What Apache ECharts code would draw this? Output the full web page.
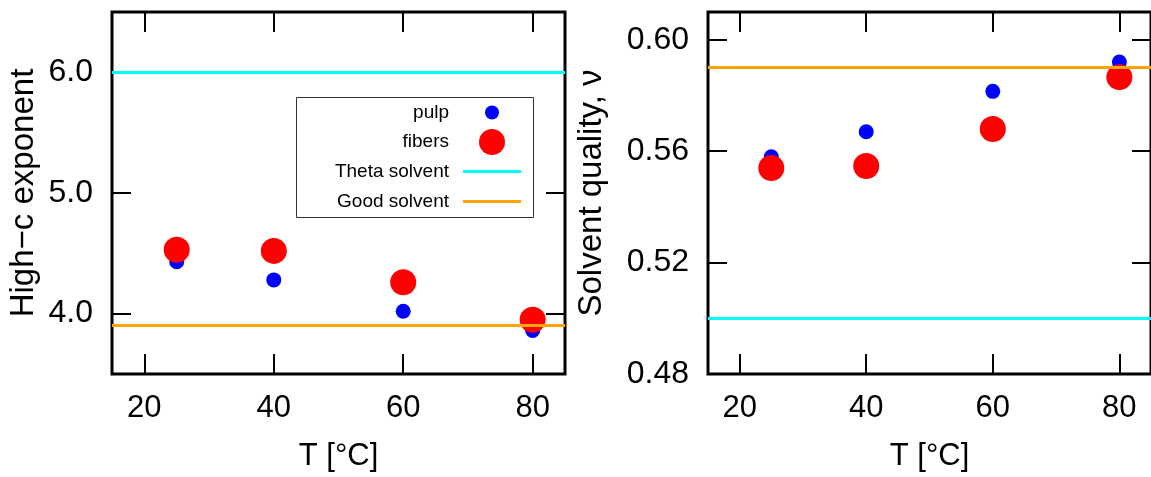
<!DOCTYPE html>
<html>
<head>
<meta charset="utf-8">
<title>High-c exponent and solvent quality vs T</title>
<script src="https://cdn.jsdelivr.net/npm/echarts@6.0.0/dist/echarts.min.js"></script>
<style>
  html, body { margin: 0; padding: 0; background: #fff; }
  #chart { width: 1151px; height: 477px; }
</style>
</head>
<body>
<div id="chart"></div>
<script>
// temperatures [°C]
var temps = [25, 40, 60, 80];
var xTicks = [20, 40, 60, 80];

// left panel: high-c exponent
var pulpExponent = [4.43, 4.28, 4.02, 3.86];
var fibersExponent = [4.53, 4.52, 4.26, 3.95];
var exponentTicks = [4.0, 5.0, 6.0];
var thetaExponent = 6.0;
var goodExponent = 3.9;

// right panel: solvent quality nu
var pulpNu = [0.558, 0.567, 0.5815, 0.592];
var fibersNu = [0.554, 0.5547, 0.568, 0.5866];
var nuTicks = [0.48, 0.52, 0.56, 0.60];
var thetaNu = 0.50;
var goodNu = 0.59;

var FONT = 'Liberation Sans';
var BLUE = '#0000ff', RED = '#ff0000', CYAN = '#00ffff', ORANGE = '#ffa500';

function pairs(xs, ys) {
  return xs.map(function (x, i) { return [x, ys[i]]; });
}

// x axis, bottom one carries labels, top one only mirrors the ticks
function xAxisOf(gridIndex, mirror) {
  return {
    type: 'value',
    gridIndex: gridIndex,
    position: mirror ? 'top' : 'bottom',
    min: 15,
    max: 85,
    name: mirror ? '' : 'T [°C]',
    nameLocation: 'middle',
    nameGap: 67,
    nameTextStyle: { fontFamily: FONT, fontSize: 31, color: '#000' },
    axisLine: { show: false },
    axisTick: { show: true, inside: true, length: 20, customValues: xTicks, lineStyle: { color: '#000', width: 2 } },
    axisLabel: { show: !mirror, customValues: xTicks, margin: 19, fontFamily: FONT, fontSize: 31, color: '#000' },
    splitLine: { show: false }
  };
}

function yAxisOf(gridIndex, mirror, min, max, ticks, digits, name, gap) {
  return {
    type: 'value',
    gridIndex: gridIndex,
    position: mirror ? 'right' : 'left',
    min: min,
    max: max,
    name: mirror ? '' : name,
    nameLocation: 'middle',
    nameGap: gap,
    nameTextStyle: { fontFamily: FONT, fontSize: 33, color: '#000' },
    axisLine: { show: false },
    axisTick: { show: true, inside: true, length: 19, customValues: ticks, lineStyle: { color: '#000', width: 2 } },
    axisLabel: {
      show: !mirror,
      customValues: ticks,
      margin: 19,
      fontFamily: FONT,
      fontSize: 32,
      color: '#000',
      formatter: function (v) { return Number(v).toFixed(digits); }
    },
    splitLine: { show: false }
  };
}

function dots(name, idx, data, size, color) {
  return {
    name: name, type: 'scatter', xAxisIndex: idx, yAxisIndex: idx,
    data: data, symbolSize: size, silent: true,
    itemStyle: { color: color, opacity: 1 }
  };
}

function hline(name, idx, value, color) {
  return {
    name: name, type: 'line', xAxisIndex: idx, yAxisIndex: idx,
    data: [], silent: true,
    itemStyle: { color: color }, lineStyle: { color: color, width: 3 },
    markLine: {
      silent: true, symbol: 'none', animation: false,
      label: { show: false },
      lineStyle: { color: color, width: 3, type: 'solid' },
      data: [{ yAxis: value }]
    }
  };
}

// one legend per row so icons line up on the right
// (right edge = edge of the drawn icon, so circles get their own offset)
function legendOf(name, icon, right, top, h) {
  return {
    data: [{ name: name, icon: icon }],
    orient: 'vertical', align: 'right',
    right: right, top: top, padding: 0,
    itemWidth: 58, itemHeight: h,
    selectedMode: false,
    textStyle: { fontFamily: FONT, fontSize: 19, color: '#000', padding: [0, 9, 0, 0] }
  };
}

var myChart = echarts.init(document.getElementById('chart'));
var option = {
  animation: false,
  backgroundColor: '#fff',
  grid: [
    { left: 112, top: 12, width: 453, height: 366, show: true, borderColor: '#000', borderWidth: 3, backgroundColor: 'transparent' },
    { left: 708, top: 12, width: 452, height: 366, show: true, borderColor: '#000', borderWidth: 3, backgroundColor: 'transparent' }
  ],
  xAxis: [xAxisOf(0, false), xAxisOf(0, true), xAxisOf(1, false), xAxisOf(1, true)],
  yAxis: [
    yAxisOf(0, false, 3.5, 6.5, exponentTicks, 1, 'High\u2212c exponent', 72),
    yAxisOf(0, true, 3.5, 6.5, exponentTicks, 1, '', 0),
    yAxisOf(1, false, 0.48, 0.61, nuTicks, 2, 'Solvent quality, \u03bd', 100),
    yAxisOf(1, true, 0.48, 0.61, nuTicks, 2, '', 0)
  ],
  legend: [
    legendOf('pulp', 'circle', 652, 103, 14),
    legendOf('fibers', 'circle', 646, 129, 26),
    legendOf('Theta solvent', 'rect', 630, 162, 3),
    legendOf('Good solvent', 'rect', 630, 192, 3)
  ],
  graphic: [{
    type: 'rect', silent: true, z: 1,
    shape: { x: 296.5, y: 97.5, width: 237, height: 120 },
    style: { fill: '#fff', stroke: '#333', lineWidth: 1 }
  }],
  series: [
    // left
    dots('pulp', 0, pairs(temps, pulpExponent), 15, BLUE),
    hline('Theta solvent', 0, thetaExponent, CYAN),
    hline('Good solvent', 0, goodExponent, ORANGE),
    dots('fibers', 0, pairs(temps, fibersExponent), 26, RED),
    // right
    dots('pulp', 2, pairs(temps, pulpNu), 15, BLUE),
    hline('Theta solvent', 2, thetaNu, CYAN),
    hline('Good solvent', 2, goodNu, ORANGE),
    dots('fibers', 2, pairs(temps, fibersNu), 26, RED)
  ]
};
myChart.setOption(option);
</script>
</body>
</html>
